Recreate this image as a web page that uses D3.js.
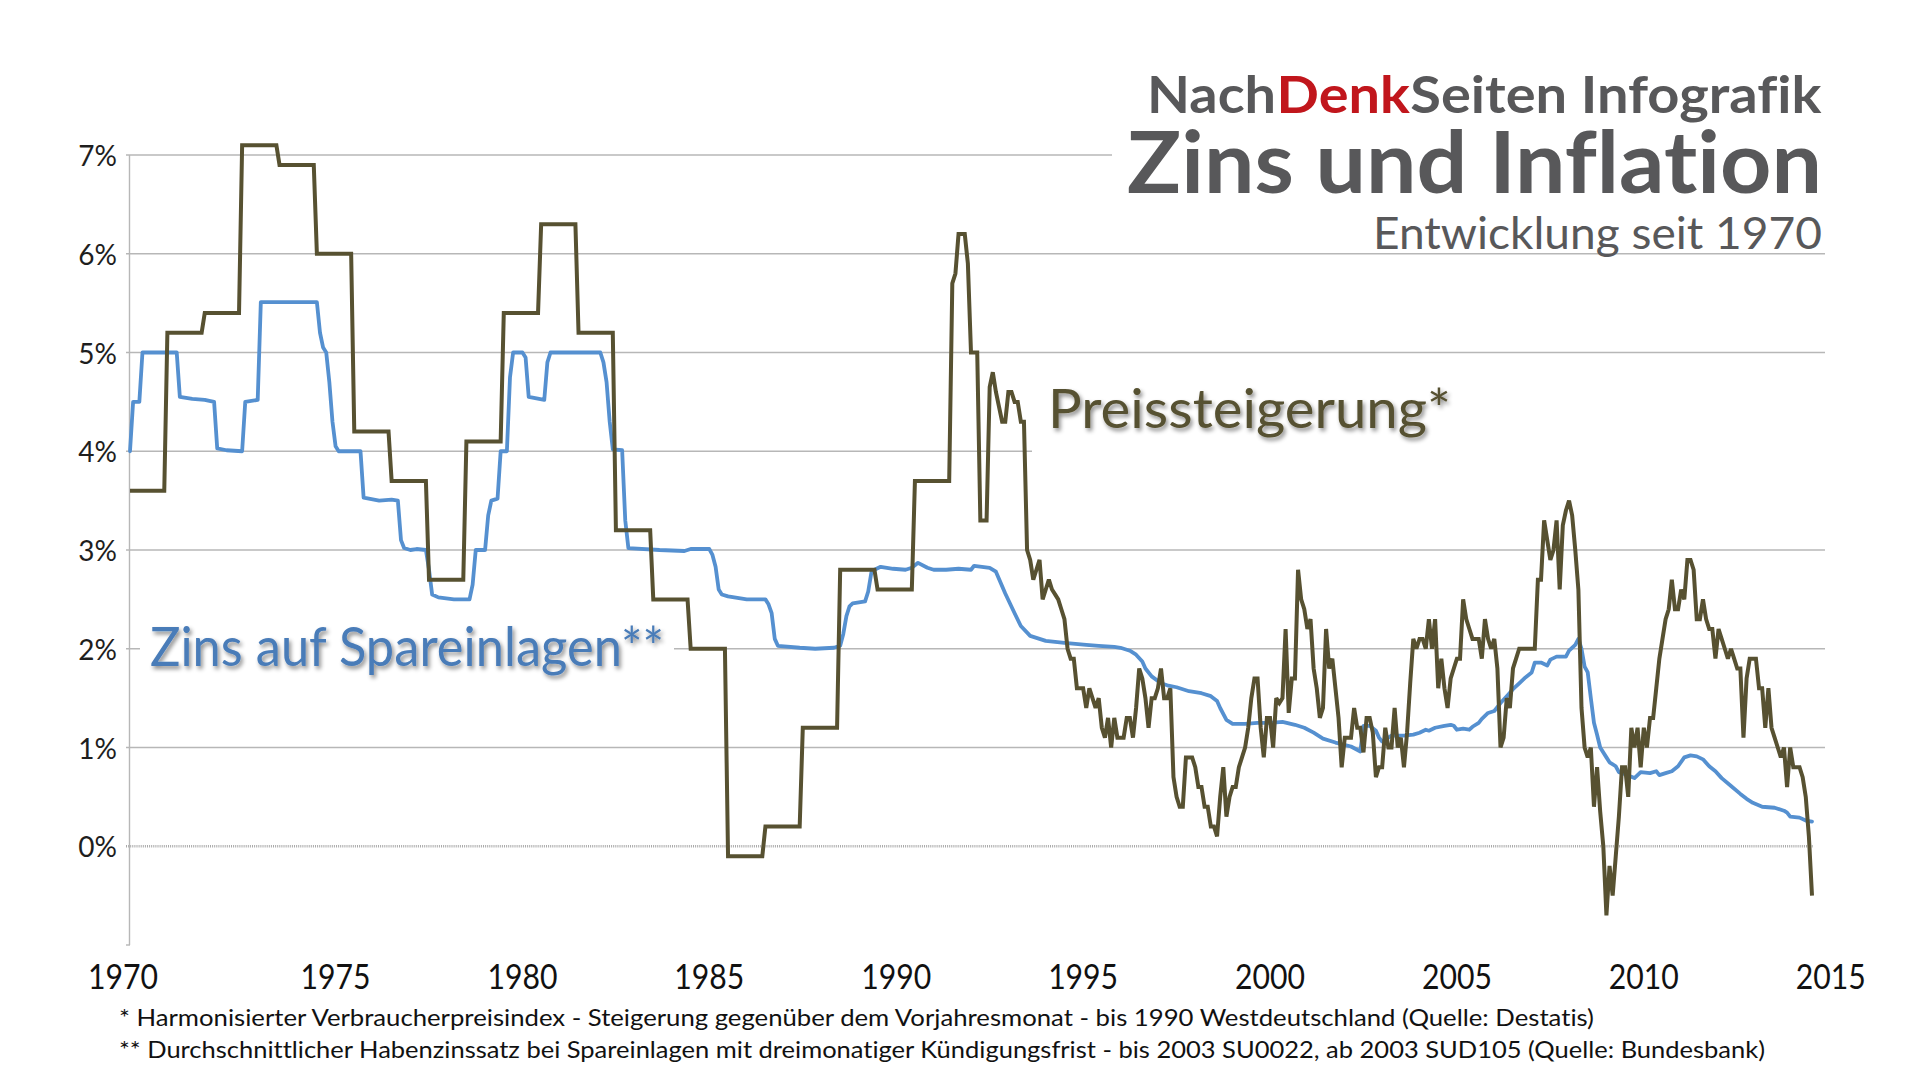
<!DOCTYPE html>
<html><head><meta charset="utf-8">
<script src="https://cdn.jsdelivr.net/npm/d3@7"></script>
<style>
html,body{margin:0;padding:0;background:#fff;}
svg{display:block;}
text{font-family:Lato,"Open Sans","DejaVu Sans",sans-serif;font-variant-ligatures:none;}
</style></head><body>
<svg id="chart" width="1920" height="1080"></svg>
<script>
// ---------------- DATA ----------------
const yTicks = [-1, 0, 1, 2, 3, 4, 5, 6, 7];
const yTickLabels = ["", "0%", "1%", "2%", "3%", "4%", "5%", "6%", "7%"];
const xLabelYears = [1970, 1975, 1980, 1985, 1990, 1995, 2000, 2005, 2010, 2015];

// Preissteigerung: annual values (1970-1991), held for each month of the year
const cpiAnnualYears = [1970,1971,1972,1973,1974,1975,1976,1977,1978,1979,1980,1981,1982,1983,1984,1985,1986,1987,1988,1989,1990,1991];
const cpiAnnual = [3.6,5.2,5.4,7.1,6.9,6.0,4.2,3.7,2.7,4.1,5.4,6.3,5.2,3.2,2.5,2.0,-0.1,0.2,1.2,2.8,2.6,3.7];

// Preissteigerung: monthly values from January 1992 to January 2015
const cpiMonthlyStart = "1992-01";
const cpiMonthly = [
  5.7,5.8,6.2,6.2,6.2,5.9,5.0,5.0,5.0,3.3,3.3,3.3,
  4.65,4.8,4.6,4.45,4.3,4.3,4.6,4.6,4.5,4.5,4.3,4.3,
  3.0,2.9,2.7,2.8,2.9,2.5,2.6,2.7,2.6,2.55,2.5,2.4,
  2.3,2.0,1.9,1.9,1.6,1.6,1.6,1.4,1.6,1.5,1.4,1.5,
  1.2,1.1,1.3,1.0,1.3,1.1,1.1,1.1,1.3,1.3,1.1,1.4,
  1.8,1.7,1.5,1.2,1.5,1.5,1.6,1.8,1.5,1.5,1.6,0.7,
  0.5,0.4,0.4,0.9,0.9,0.9,0.8,0.6,0.6,0.4,0.4,0.2,
  0.2,0.1,0.5,0.8,0.3,0.5,0.6,0.6,0.8,0.9,1.0,1.2,
  1.5,1.7,1.7,1.2,0.9,1.3,1.3,1.0,1.5,1.45,1.5,2.2,
  1.35,1.7,1.7,2.8,2.5,2.4,2.2,2.3,1.8,1.6,1.3,1.4,
  2.2,1.8,1.9,1.6,1.3,0.8,1.1,1.1,1.1,1.4,1.2,1.2,
  0.95,1.3,1.3,1.15,0.7,0.8,0.8,1.2,1.0,1.0,1.4,1.0,
  1.1,0.8,1.15,1.65,2.1,2.0,2.1,2.1,2.0,2.3,2.0,2.3,
  1.6,1.9,1.6,1.4,1.7,1.8,1.9,1.9,2.5,2.3,2.2,2.1,
  2.1,2.1,1.9,2.3,2.1,2.0,2.1,1.8,1.0,1.1,1.5,1.4,
  1.8,1.9,2.0,2.0,2.0,2.0,2.0,2.0,2.7,2.7,3.3,3.1,
  2.9,3.0,3.3,2.6,3.25,3.4,3.5,3.35,3.0,2.6,1.4,1.0,
  0.9,1.0,0.4,0.8,0.35,0.0,-0.7,-0.2,-0.5,-0.1,0.3,0.8,
  0.8,0.5,1.2,1.0,1.2,0.8,1.2,1.0,1.3,1.3,1.6,1.9,
  2.1,2.3,2.4,2.7,2.4,2.4,2.6,2.5,2.9,2.9,2.8,2.3,
  2.3,2.5,2.3,2.2,2.2,1.9,2.2,2.1,2.0,1.9,2.0,1.9,
  1.8,1.8,1.1,1.7,1.9,1.9,1.9,1.6,1.6,1.2,1.6,1.2,
  1.1,1.0,0.9,1.0,0.6,1.0,0.8,0.8,0.8,0.7,0.5,0.1,
  -0.5
];

// Zins auf Spareinlagen: monthly readings at the points where the line changes course
const savingsRate = [
  ["1970-01",4.0],["1970-02",4.5],["1970-04",4.5],["1970-05",5.0],["1971-04",5.0],["1971-05",4.55],
  ["1971-09",4.53],["1972-01",4.52],["1972-04",4.5],["1972-05",4.03],["1972-08",4.01],["1973-01",4.0],
  ["1973-02",4.5],["1973-06",4.52],["1973-07",5.51],["1975-01",5.51],["1975-02",5.2],["1975-03",5.05],
  ["1975-04",5.0],["1975-05",4.7],["1975-06",4.3],["1975-07",4.05],["1975-08",4.0],["1976-03",4.0],
  ["1976-04",3.53],["1976-09",3.5],["1977-01",3.51],["1977-03",3.5],["1977-04",3.1],["1977-05",3.02],
  ["1977-07",3.0],["1977-09",3.01],["1977-12",3.0],["1978-01",2.8],["1978-02",2.55],["1978-04",2.52],
  ["1978-09",2.5],["1979-02",2.5],["1979-03",2.65],["1979-04",3.0],["1979-07",3.0],["1979-08",3.35],
  ["1979-09",3.5],["1979-11",3.52],["1979-12",4.0],["1980-02",4.0],["1980-03",4.75],["1980-04",5.0],
  ["1980-07",5.0],["1980-08",4.95],["1980-09",4.55],["1981-02",4.52],["1981-03",4.9],["1981-04",5.0],
  ["1982-08",5.0],["1982-09",4.9],["1982-10",4.7],["1982-11",4.3],["1982-12",4.02],["1983-03",4.01],
  ["1983-04",3.3],["1983-05",3.02],["1984-03",3.0],["1984-11",2.99],["1985-01",3.01],["1985-07",3.01],
  ["1985-08",2.95],["1985-09",2.83],["1985-10",2.6],["1985-11",2.55],["1986-01",2.53],["1986-07",2.5],
  ["1987-01",2.5],["1987-02",2.45],["1987-03",2.36],["1987-04",2.1],["1987-05",2.03],["1987-12",2.01],
  ["1988-05",2.0],["1988-11",2.01],["1989-01",2.03],["1989-02",2.15],["1989-03",2.33],["1989-04",2.43],
  ["1989-05",2.46],["1989-09",2.48],["1989-10",2.58],["1989-11",2.77],["1989-12",2.8],["1990-02",2.83],
  ["1990-06",2.81],["1990-10",2.8],["1990-12",2.82],["1991-02",2.87],["1991-05",2.82],["1991-07",2.8],
  ["1991-11",2.8],["1992-03",2.81],["1992-07",2.8],["1992-08",2.84],["1993-01",2.82],["1993-03",2.78],
  ["1993-06",2.56],["1993-09",2.36],["1993-11",2.23],["1994-02",2.13],["1994-07",2.08],["1995-01",2.06],
  ["1995-08",2.04],["1995-12",2.03],["1996-05",2.02],["1996-07",2.01],["1996-10",1.98],["1996-12",1.94],
  ["1997-02",1.87],["1997-03",1.8],["1997-05",1.72],["1997-08",1.65],["1997-10",1.63],["1998-01",1.61],
  ["1998-05",1.57],["1998-09",1.55],["1998-12",1.52],["1999-02",1.47],["1999-03",1.4],["1999-05",1.28],
  ["1999-07",1.24],["1999-11",1.24],["2000-03",1.25],["2000-07",1.25],["2000-11",1.26],["2001-03",1.23],
  ["2001-06",1.2],["2001-09",1.15],["2001-12",1.09],["2002-04",1.05],["2002-09",1.01],["2002-12",0.96],
  ["2003-01",1.22],["2003-03",1.22],["2003-05",1.17],["2003-06",1.1],["2003-07",1.06],["2003-10",1.12],
  ["2004-02",1.12],["2004-05",1.13],["2004-07",1.15],["2004-09",1.18],["2004-10",1.17],["2004-12",1.2],
  ["2005-03",1.22],["2005-05",1.23],["2005-06",1.22],["2005-07",1.18],["2005-09",1.19],["2005-11",1.18],
  ["2005-12",1.21],["2006-02",1.25],["2006-03",1.29],["2006-05",1.35],["2006-07",1.37],["2006-09",1.45],
  ["2006-11",1.52],["2007-01",1.59],["2007-03",1.65],["2007-05",1.71],["2007-07",1.76],["2007-08",1.86],
  ["2007-10",1.86],["2007-12",1.83],["2008-01",1.89],["2008-03",1.92],["2008-06",1.92],["2008-07",1.98],
  ["2008-09",2.04],["2008-10",2.1],["2008-11",2.0],["2008-12",1.82],["2009-01",1.76],["2009-02",1.5],
  ["2009-03",1.25],["2009-04",1.13],["2009-05",1.0],["2009-07",0.9],["2009-08",0.85],["2009-10",0.81],
  ["2009-11",0.75],["2010-01",0.73],["2010-04",0.69],["2010-06",0.75],["2010-09",0.74],["2010-11",0.76],
  ["2010-12",0.72],["2011-02",0.74],["2011-04",0.76],["2011-06",0.81],["2011-08",0.9],["2011-10",0.92],
  ["2011-12",0.91],["2012-02",0.88],["2012-04",0.81],["2012-06",0.76],["2012-08",0.69],["2012-11",0.61],
  ["2013-02",0.53],["2013-04",0.48],["2013-06",0.44],["2013-09",0.4],["2014-01",0.39],["2014-04",0.36],
  ["2014-05",0.34],["2014-06",0.3],["2014-09",0.29],["2014-11",0.26],["2015-01",0.25]
];

const titleParts = [["Nach","#58585a"],["Denk","#c1161c"],["Seiten Infografik","#58585a"]];
const titleMain = "Zins und Inflation";
const titleSub = "Entwicklung seit 1970";
const labelSavings = "Zins auf Spareinlagen**";
const labelCpi = "Preissteigerung*";
const footnotes = [
  "* Harmonisierter Verbraucherpreisindex - Steigerung gegenüber dem Vorjahresmonat - bis 1990 Westdeutschland (Quelle: Destatis)",
  "** Durchschnittlicher Habenzinssatz bei Spareinlagen mit dreimonatiger Kündigungsfrist - bis 2003 SU0022, ab 2003 SUD105 (Quelle: Bundesbank)"
];

// ---------------- CHART ----------------
const svg = d3.select("#chart");
const cpiColor = "#575131", blueColor = "#5590d0", gridColor = "#b7b7b7";

const x = d3.scaleLinear().domain([1970, 2015]).range([130, 1812]);
const y = d3.scaleLinear().domain([-1, 7]).range([945, 155]);
const plotRight = 1825;

const toYear = s => { const [yy, mm] = s.split("-").map(Number); return yy + (mm - 1) / 12; };

// build CPI points
const cpiPoints = [];
cpiAnnualYears.forEach((yr, i) => { for (let k = 0; k < 12; k++) cpiPoints.push([yr + k / 12, cpiAnnual[i]]); });
const cpiStart = toYear(cpiMonthlyStart);
cpiMonthly.forEach((v, i) => cpiPoints.push([cpiStart + i / 12, v]));
const savingsPoints = savingsRate.map(d => [toYear(d[0]), d[1]]);

const defs = svg.append("defs");
const f = defs.append("filter").attr("id", "shadow").attr("x", "-10%").attr("y", "-30%").attr("width", "120%").attr("height", "160%");
f.append("feDropShadow").attr("dx", 2).attr("dy", 3).attr("stdDeviation", 2).attr("flood-color", "#000").attr("flood-opacity", 0.45);

// gridlines
const gGrid = svg.append("g");
gGrid.selectAll("line.grid").data(yTicks.filter(t => t > 0)).join("line")
  .attr("x1", 126).attr("x2", plotRight)
  .attr("y1", d => y(d)).attr("y2", d => y(d))
  .attr("stroke", gridColor).attr("stroke-width", 1.4);
// zero line (dotted)
gGrid.append("line").attr("x1", 126).attr("x2", x(2015) + 1)
  .attr("y1", y(0)).attr("y2", y(0))
  .attr("stroke", "#a9a9a9").attr("stroke-width", 2.6).attr("stroke-dasharray", "1,1.1");
// y axis line + small ticks
gGrid.append("line").attr("x1", x(1970) - 0.5).attr("x2", x(1970) - 0.5).attr("y1", y(7)).attr("y2", y(-1))
  .attr("stroke", gridColor).attr("stroke-width", 1.4);
gGrid.append("line").attr("x1", 126).attr("x2", x(1970)).attr("y1", y(-1)).attr("y2", y(-1))
  .attr("stroke", gridColor).attr("stroke-width", 1.4);

// y tick labels
svg.append("g").selectAll("text").data(yTicks.filter(t => t >= 0)).join("text")
  .attr("x", 117).attr("y", d => y(d) + 11)
  .attr("text-anchor", "end").attr("font-size", 28).attr("fill", "#1e1e1e")
  .text(d => yTickLabels[yTicks.indexOf(d)]);

// x labels (centered in each year)
svg.append("g").selectAll("text").data(xLabelYears).join("text")
  .attr("x", (d, i) => i === 0 ? x(d) - 7 : x(d + 0.5))
  .attr("y", 989)
  .attr("text-anchor", "middle").attr("font-size", 34).attr("fill", "#111")
  .attr("textLength", 70).attr("lengthAdjust", "spacingAndGlyphs")
  .text(d => d);

// white label/title backgrounds
svg.append("rect").attr("x", 1112).attr("y", 60).attr("width", 720).attr("height", 180).attr("fill", "#fff");
svg.append("rect").attr("x", 140).attr("y", 612).attr("width", 534).attr("height", 70).attr("fill", "#fff");
svg.append("rect").attr("x", 1032).attr("y", 375).attr("width", 800).attr("height", 90).attr("fill", "#fff");

// data lines
const line = d3.line().x(d => x(d[0])).y(d => y(d[1]));
svg.append("path").datum(savingsPoints).attr("d", line)
  .attr("fill", "none").attr("stroke", blueColor).attr("stroke-width", 3.8)
  .attr("stroke-linejoin", "round").attr("stroke-linecap", "round");
svg.append("path").datum(cpiPoints).attr("d", line)
  .attr("fill", "none").attr("stroke", cpiColor).attr("stroke-width", 4)
  .attr("stroke-linejoin", "miter").attr("stroke-miterlimit", 3);

// series labels
svg.append("text").attr("x", 150).attr("y", 666).attr("font-size", 54)
  .attr("fill", "#4a7cb8").attr("filter", "url(#shadow)")
  .attr("textLength", 514).attr("lengthAdjust", "spacingAndGlyphs")
  .text(labelSavings);
svg.append("text").attr("x", 1048).attr("y", 428).attr("font-size", 55)
  .attr("fill", cpiColor).attr("filter", "url(#shadow)")
  .attr("textLength", 403).attr("lengthAdjust", "spacingAndGlyphs")
  .text(labelCpi);

// title line 1: three adjacent pieces, scaled together to the target width
const t1Right = 1822, t1Width = 675;
const pieces = titleParts.map(p => svg.append("text").attr("y", 113)
  .attr("font-size", 51).attr("font-weight", 700).attr("fill", p[1]).text(p[0]));
const natural = pieces.map(t => t.node().getComputedTextLength());
const k = t1Width / d3.sum(natural);
let cx = t1Right - t1Width;
pieces.forEach((t, i) => {
  const w = natural[i] * k;
  t.attr("x", cx).attr("textLength", w - 0.5).attr("lengthAdjust", "spacingAndGlyphs");
  cx += w;
});

svg.append("text").attr("x", 1822).attr("y", 193).attr("text-anchor", "end")
  .attr("font-size", 86).attr("font-weight", 700).attr("fill", "#58585a")
  .attr("textLength", 695).attr("lengthAdjust", "spacingAndGlyphs")
  .text(titleMain);
svg.append("text").attr("x", 1822).attr("y", 249).attr("text-anchor", "end")
  .attr("font-size", 44).attr("fill", "#58585a")
  .attr("textLength", 449).attr("lengthAdjust", "spacingAndGlyphs")
  .text(titleSub);

// footnotes
svg.append("g").selectAll("text").data(footnotes).join("text")
  .attr("x", 119).attr("y", (d, i) => 1026 + i * 32)
  .attr("font-size", 23).attr("fill", "#111")
  .attr("textLength", (d, i) => i === 0 ? 1475 : 1646).attr("lengthAdjust", "spacingAndGlyphs")
  .text(d => d);
</script>
</body></html>
